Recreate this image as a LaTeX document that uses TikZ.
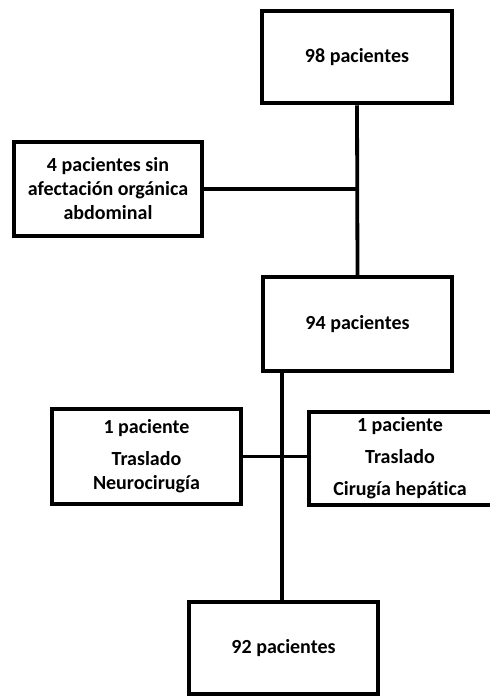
\documentclass[tikz,border=0pt]{standalone}
\usepackage{fontspec}
\setmainfont{Carlito}[BoldFont={Carlito Bold},Ligatures={NoCommon}]
\begin{document}
\begin{tikzpicture}[x=1pt,y=-1pt,
  box/.style={draw=black,line width=4.5pt,fill=white,inner sep=0pt,align=center,
    font=\bfseries\fontsize{20}{24}\selectfont},
  link/.style={draw=black,line width=3.8pt}]
\useasboundingbox (0,0) rectangle (490,697);
\clip (0,0) rectangle (490,697);
\fill[white] (0,0) rectangle (490,697);
\coordinate (j1) at (357,189);
\coordinate (j2) at (282,457);
\node[box,minimum width=190pt,minimum height=92pt] (b1) at (357,57) {98 pacientes};
\node[box,minimum width=188pt,minimum height=94pt] (b2) at (108,189) {4 pacientes sin\\afectación orgánica\\abdominal};
\node[box,minimum width=189pt,minimum height=94pt] (b3) at (357.5,324) {94 pacientes};
\node[box,minimum width=189pt,minimum height=95pt] (b4) at (146.5,456.5) {1 paciente\\[8pt]Traslado\\Neurocirugía};
\node[box,minimum width=196pt,minimum height=93pt] (b5) at (407,458.5) {\hspace*{-14pt}1 paciente\\[8pt]\hspace*{-14pt}Traslado\\[8pt]\hspace*{-14pt}Cirugía hepática};
\node[box,minimum width=189pt,minimum height=92pt] (b6) at (283.5,648) {92 pacientes};
\path[link] (b1.south) -- (b3.north);
\path[link] (b2.east) -- (j1);
\path[link] (b3.south -| j2) -- (b6.north -| j2);
\path[link] (b4.east) -- (b5.west |- b4.east);
\end{tikzpicture}
\end{document}
